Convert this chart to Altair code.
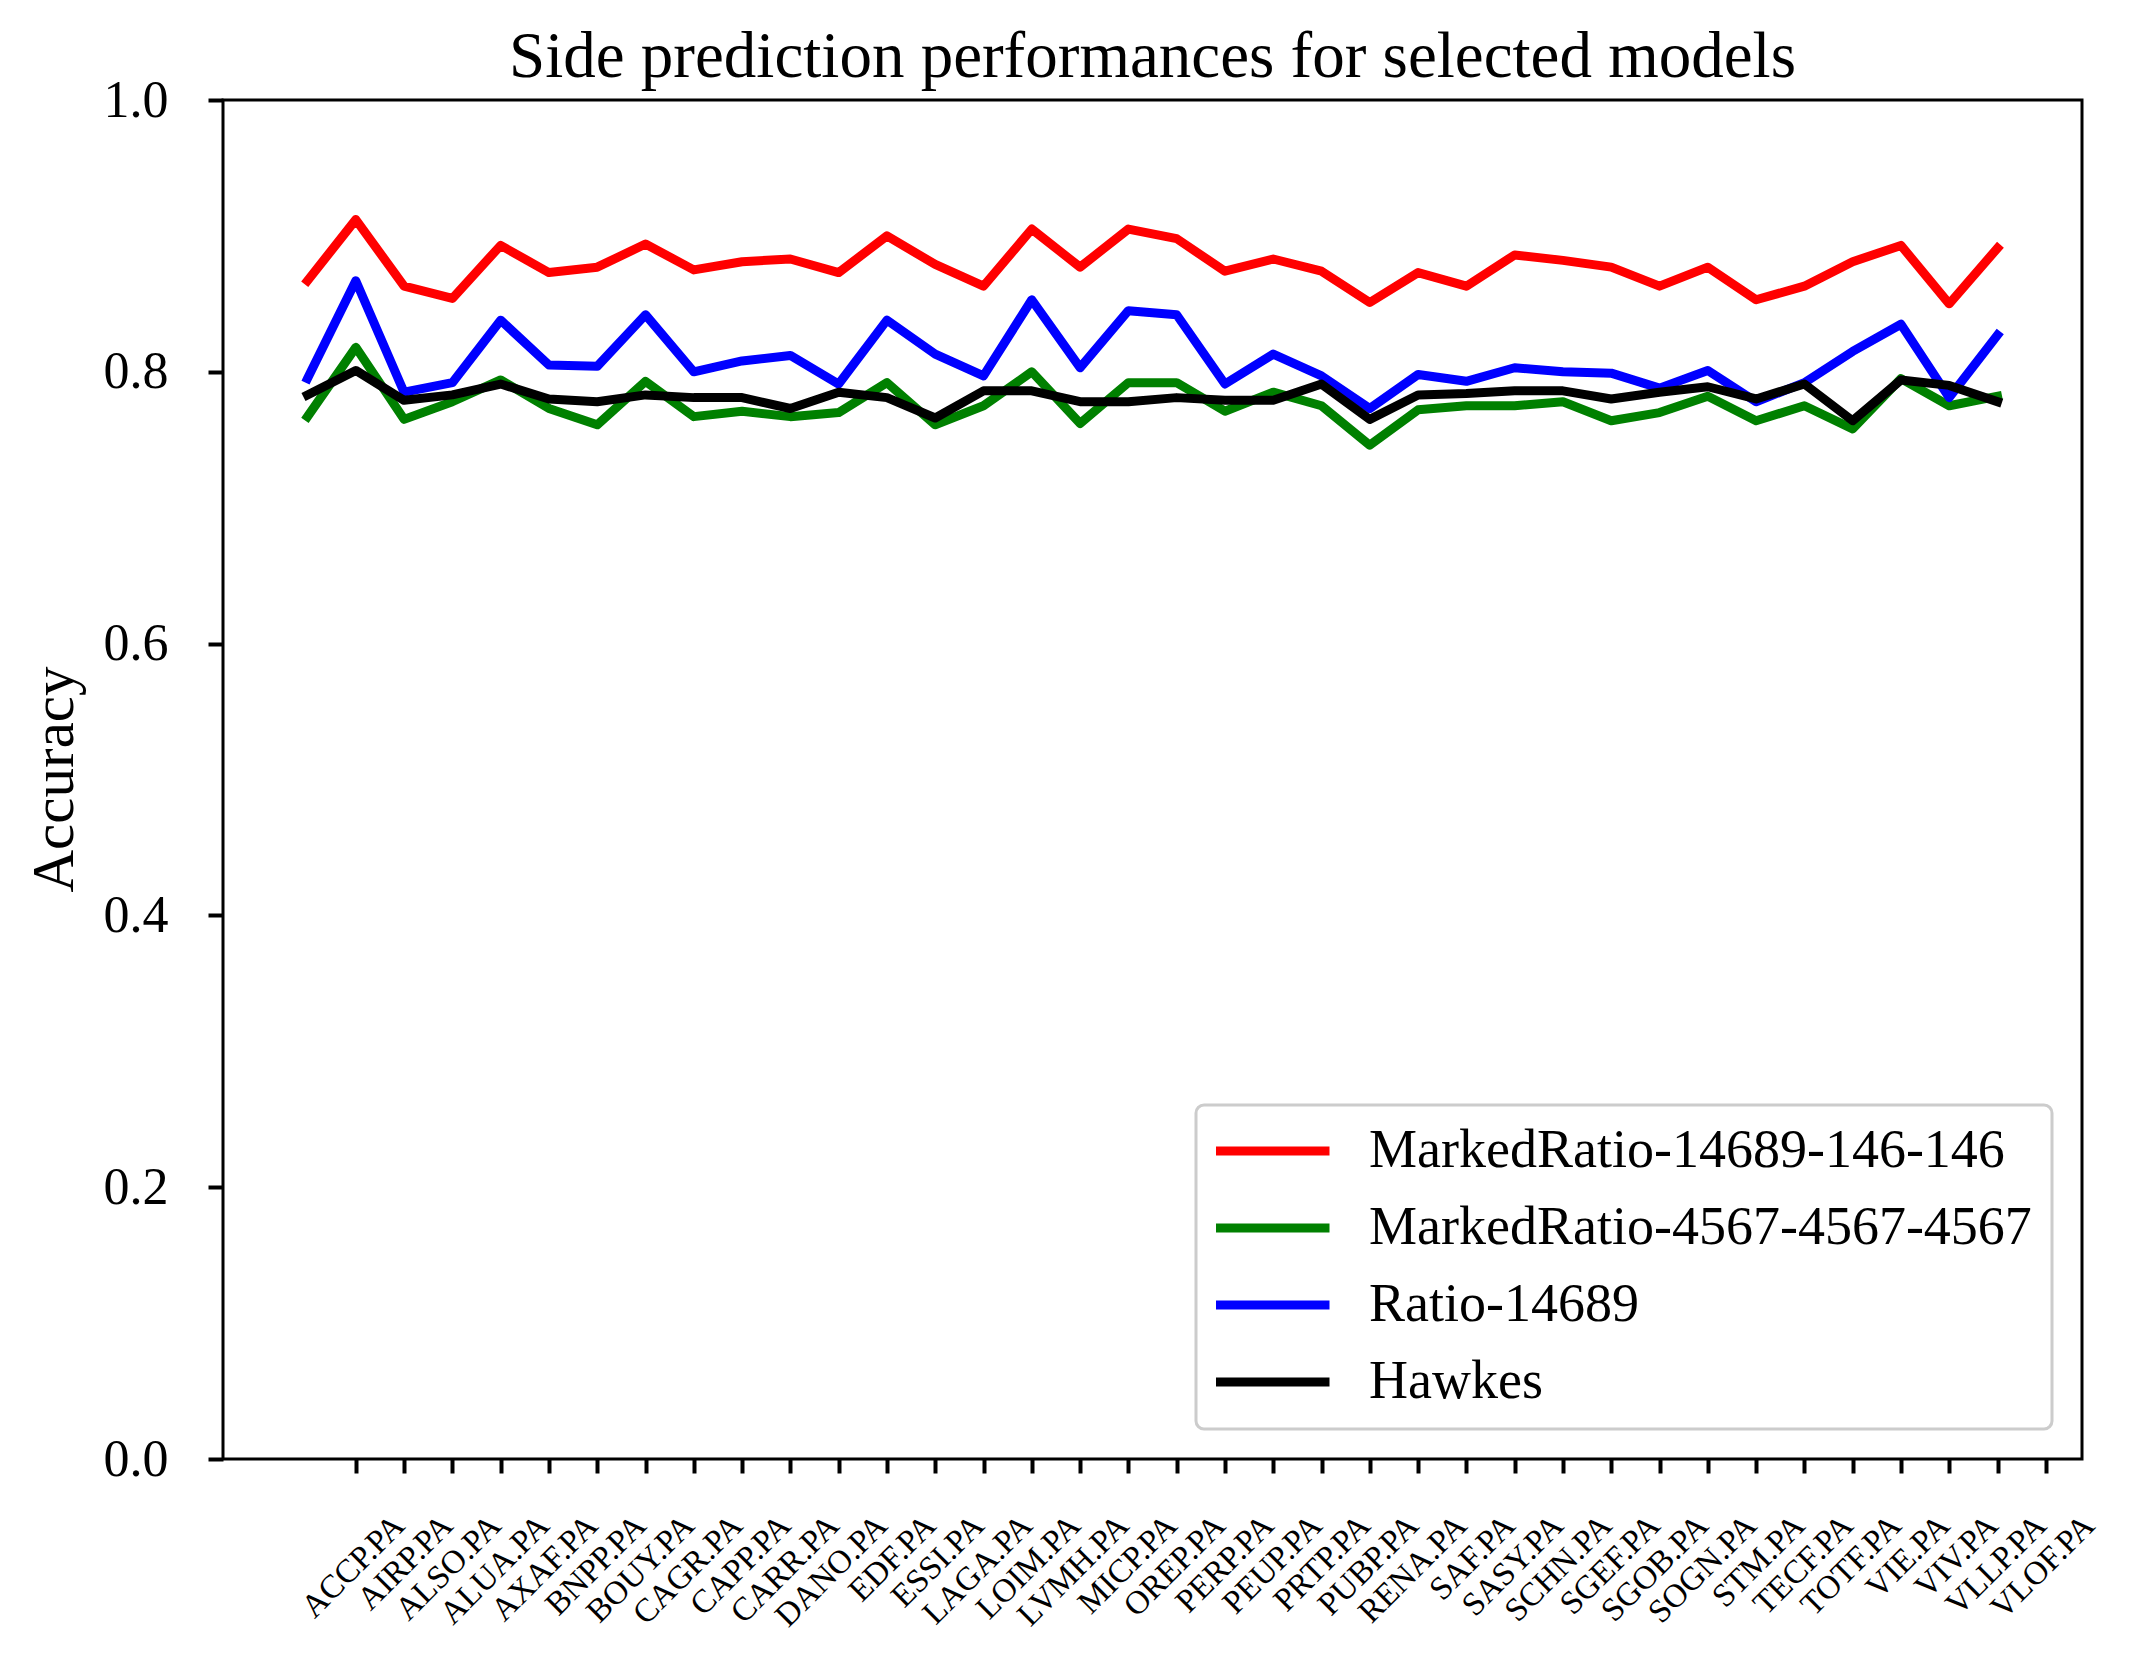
import json
import altair as alt
import pandas as pd

tickers = [
    "ACCP.PA", "AIRP.PA", "ALSO.PA", "ALUA.PA", "AXAF.PA", "BNPP.PA", "BOUY.PA",
    "CAGR.PA", "CAPP.PA", "CARR.PA", "DANO.PA", "EDF.PA", "ESSI.PA", "LAGA.PA",
    "LOIM.PA", "LVMH.PA", "MICP.PA", "OREP.PA", "PERP.PA", "PEUP.PA", "PRTP.PA",
    "PUBP.PA", "RENA.PA", "SAF.PA", "SASY.PA", "SCHN.PA", "SGEF.PA", "SGOB.PA",
    "SOGN.PA", "STM.PA", "TECF.PA", "TOTF.PA", "VIE.PA", "VIV.PA", "VLLP.PA", "VLOF.PA",
]
tick_positions = list(range(1, 37))

series_names = [
    "MarkedRatio-14689-146-146",
    "MarkedRatio-4567-4567-4567",
    "Ratio-14689",
    "Hawkes",
]
series_colors = ["#ff0000", "#008000", "#0000ff", "#000000"]

marked_ratio_14689 = [
    0.867, 0.912, 0.863, 0.854, 0.893, 0.873, 0.877, 0.894, 0.875,
    0.881, 0.883, 0.873, 0.900, 0.879, 0.863, 0.905, 0.877, 0.905,
    0.898, 0.874, 0.883, 0.874, 0.851, 0.873, 0.863, 0.886, 0.882, 0.877,
    0.863, 0.877, 0.853, 0.863, 0.881, 0.893, 0.850, 0.891,
]
marked_ratio_4567 = [
    0.767, 0.818, 0.765, 0.778, 0.794, 0.773, 0.761, 0.793, 0.767,
    0.771, 0.767, 0.770, 0.792, 0.761, 0.775, 0.800, 0.762, 0.792,
    0.792, 0.771, 0.785, 0.775, 0.746, 0.772, 0.775, 0.775, 0.778, 0.764,
    0.770, 0.782, 0.764, 0.775, 0.758, 0.795, 0.775, 0.782,
]
ratio_14689 = [
    0.795, 0.867, 0.785, 0.792, 0.838, 0.805, 0.804, 0.842, 0.800,
    0.808, 0.812, 0.791, 0.838, 0.813, 0.797, 0.853, 0.803, 0.845,
    0.842, 0.791, 0.813, 0.797, 0.773, 0.798, 0.793, 0.803, 0.800, 0.799,
    0.788, 0.801, 0.778, 0.792, 0.815, 0.835, 0.781, 0.827,
]
hawkes = [
    0.783, 0.801, 0.779, 0.783, 0.791, 0.780, 0.778, 0.783, 0.781,
    0.781, 0.773, 0.785, 0.781, 0.766, 0.786, 0.786, 0.778, 0.778,
    0.781, 0.779, 0.779, 0.791, 0.765, 0.783, 0.784, 0.786, 0.786, 0.780,
    0.785, 0.789, 0.780, 0.791, 0.764, 0.794, 0.790, 0.778,
]

rows = []
for name, vals in zip(series_names, [marked_ratio_14689, marked_ratio_4567, ratio_14689, hawkes]):
    for i, v in enumerate(vals):
        rows.append({"model": name, "idx": i, "accuracy": v})
df = pd.DataFrame(rows)

FONT = "Liberation Serif"
label_expr = json.dumps(tickers) + "[datum.value - 1]"

chart = (
    alt.Chart(df)
    .mark_line(strokeWidth=9, strokeJoin="round", strokeCap="square")
    .encode(
        x=alt.X(
            "idx:Q",
            scale=alt.Scale(domain=[-1.75, 36.75], nice=False, zero=False),
            axis=alt.Axis(
                values=tick_positions,
                labelExpr=label_expr,
                title=None,
                grid=False,
                domain=False,
                labelAngle=-45,
                labelAlign="right",
                labelBaseline="middle",
                labelOffset=43,
                labelPadding=47,
                labelFont=FONT,
                labelFontSize=33,
                labelColor="black",
                labelOverlap=False,
                labelFlush=False,
                labelBound=False,
                tickSize=14,
                tickWidth=4,
                tickColor="black",
            ),
        ),
        y=alt.Y(
            "accuracy:Q",
            scale=alt.Scale(domain=[0, 1], nice=False, zero=False),
            axis=alt.Axis(
                values=[0, 0.2, 0.4, 0.6, 0.8, 1.0],
                format=".1f",
                title="Accuracy",
                grid=False,
                domain=False,
                labelFont=FONT,
                labelFontSize=52,
                labelColor="black",
                labelPadding=40,
                tickSize=15,
                tickWidth=4,
                tickColor="black",
                titleFont=FONT,
                titleFontSize=59,
                titleFontWeight="normal",
                titleColor="black",
                titleAngle=270,
                titleAlign="center",
                titleBaseline="alphabetic",
                titleX=-151,
                titleY=679,
            ),
        ),
        color=alt.Color(
            "model:N",
            scale=alt.Scale(domain=series_names, range=series_colors),
            legend=alt.Legend(
                title=None,
                orient="none",
                legendX=973,
                legendY=1005,
            ),
        ),
    )
    .properties(
        width=1859,
        height=1359,
        title=alt.TitleParams(
            text="Side prediction performances for selected models",
            font=FONT,
            fontSize=65,
            fontWeight="normal",
            color="black",
            anchor="middle",
            baseline="alphabetic",
            offset=0,
            dy=68,
        ),
        autosize=alt.AutoSizeParams(type="none"),
        padding={"left": 215, "top": 92, "right": 40, "bottom": 195},
    )
    .configure(background="white")
    .configure_view(stroke="black", strokeWidth=3)
    .configure_legend(
        strokeColor="#cccccc",
        strokeWidth=3,
        fillColor="white",
        cornerRadius=8,
        padding=20,
        labelFont=FONT,
        labelFontSize=54,
        labelColor="black",
        labelLimit=2000,
        labelOffset=35,
        symbolOffset=-9,
        symbolType="stroke",
        symbolSize=13924,
        symbolStrokeWidth=9,
        rowPadding=23,
        clipHeight=52,
    )
)

chart.save("out.html", embed_options={"renderer": "svg", "actions": False})
